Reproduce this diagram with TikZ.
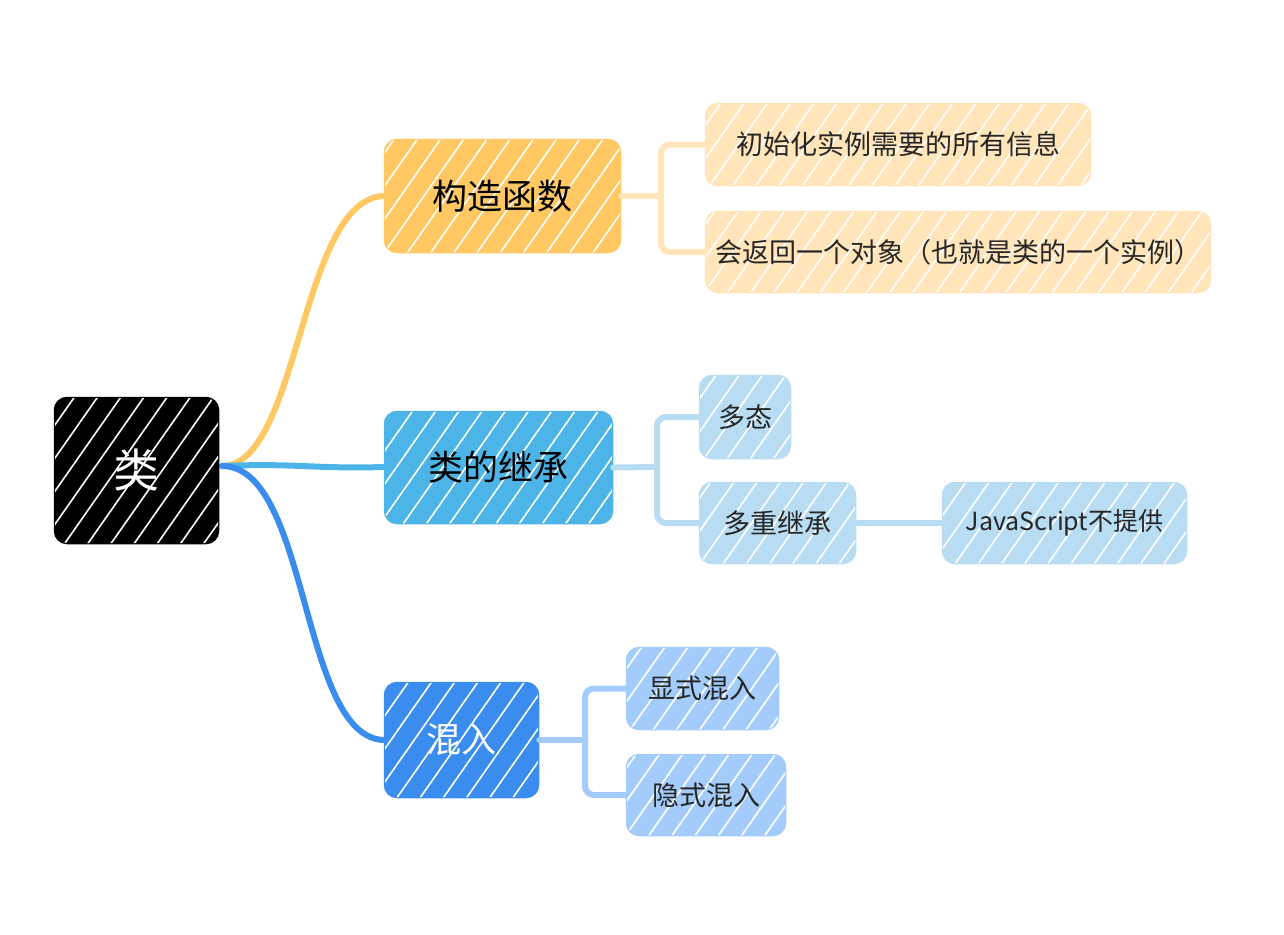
\documentclass[tikz,border=0pt]{standalone}
\usepackage{fontspec}
\newfontfamily\cjk{Noto Sans CJK SC}
\usetikzlibrary{patterns.meta}
\definecolor{rootc}{HTML}{000000}
\definecolor{orangec}{HTML}{FFC862}
\definecolor{orangel}{HTML}{FFE5B9}
\definecolor{cyanc}{HTML}{4DB4E8}
\definecolor{cyanl}{HTML}{B8DDF2}
\definecolor{bluec}{HTML}{3A8DEE}
\definecolor{bluel}{HTML}{A4CCFA}
\begin{document}
\begin{tikzpicture}[x=1pt,y=-1pt,
  box/.style={rounded corners=12pt, inner sep=0pt, align=center, line width=2.5pt,
    postaction={fill opacity=0.5, pattern={Lines[angle=55,distance=19pt,line width=1.6pt]}, pattern color=white}},
  rootbox/.style={box, fill=rootc, draw=rootc, text=white, font=\cjk\fontsize{46pt}{52pt}\selectfont},
  lvone/.style={box, font=\cjk\fontsize{35pt}{40pt}\selectfont},
  lvtwo/.style={box, font=\cjk\fontsize{27pt}{32pt}\selectfont, text=black!85},
  latin/.style={font=\cjk\fontsize{25pt}{30pt}\selectfont},
  trunk/.style={line width=6pt, line cap=round},
  twig/.style={line width=6pt, rounded corners=9pt, line cap=round}
]
\useasboundingbox (0,0) rectangle (1284,934);
% connectors from root
\coordinate (rs) at (222,466);
\draw[trunk, orangec] (rs) .. controls (300,466) and (300,196) .. (385,196);
\draw[trunk, cyanc] (rs) .. controls (300,463) and (310,469) .. (385,467);
\draw[trunk, bluec] (rs) .. controls (310,466) and (300,740) .. (385,740);
% nodes
\node[rootbox, minimum width=163pt, minimum height=145pt] (root) at (136.5,470.5) {类};
\node[lvone, fill=orangec, draw=orangec, minimum width=235pt, minimum height=112pt] (a) at (502.5,196) {构造函数};
\node[lvone, fill=cyanc, draw=cyanc, minimum width=227pt, minimum height=111pt] (b) at (498.5,467.5) {类的继承};
\node[lvone, fill=bluec, draw=bluec, text=white, minimum width=153pt, minimum height=114pt] (c) at (461.5,740) {混入};
\node[lvtwo, fill=orangel, draw=orangel, minimum width=384pt, minimum height=81pt] (a1) at (898,144.5) {初始化实例需要的所有信息};
\node[lvtwo, fill=orangel, draw=orangel, minimum width=504pt, minimum height=80pt] (a2) at (958,252) {会返回一个对象（也就是类的一个实例）};
\node[lvtwo, fill=cyanl, draw=cyanl, minimum width=90pt, minimum height=82pt] (b1) at (745,417) {多态};
\node[lvtwo, fill=cyanl, draw=cyanl, minimum width=155pt, minimum height=80pt] (b2) at (777.5,523) {多重继承};
\node[lvtwo, latin, fill=cyanl, draw=cyanl, minimum width=243pt, minimum height=80pt] (b3) at (1064.5,523) {JavaScript不提供};
\node[lvtwo, fill=bluel, draw=bluel, minimum width=151pt, minimum height=81pt] (c1) at (702.5,688.5) {显式混入};
\node[lvtwo, fill=bluel, draw=bluel, minimum width=158pt, minimum height=80pt] (c2) at (706,795) {隐式混入};
% child connectors
\coordinate (aj) at (661,196);
\coordinate (bj) at (657,467);
\coordinate (cj) at (585,740);
\draw[twig, orangel] (a.east) -- (aj);
\draw[twig, orangel] (aj) |- (a1.west);
\draw[twig, orangel] (aj) |- (a2.west);
\draw[twig, cyanl] (b.east) -- (bj);
\draw[twig, cyanl] (bj) |- (b1.west);
\draw[twig, cyanl] (bj) |- (b2.west);
\draw[twig, cyanl] (b2.east) -- (b3.west);
\draw[twig, bluel] (c.east) -- (cj);
\draw[twig, bluel] (cj) |- (c1.west);
\draw[twig, bluel] (cj) |- (c2.west);
\end{tikzpicture}
\end{document}
